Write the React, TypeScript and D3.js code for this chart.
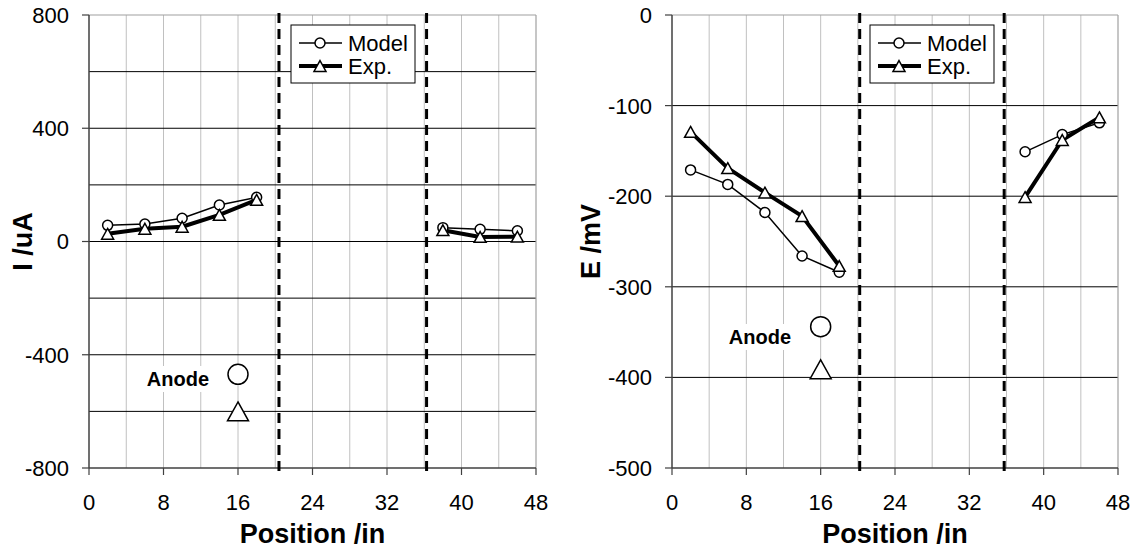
import React from "react";
import * as d3 from "d3";

const xsLeft = [2, 6, 10, 14, 18];
const xsRight = [38, 42, 46];

const currentModelLeft = [57, 62, 82, 129, 156];
const currentExpLeft = [27, 45, 52, 94, 147];
const currentModelRight = [49, 43, 38];
const currentExpRight = [40, 16, 17];
const currentAnode = { x: 16, model: -469, exp: -600 };

const potentialModelLeft = [-171, -187, -218, -266, -284];
const potentialExpLeft = [-129, -169, -196, -222, -277];
const potentialModelRight = [-151, -132, -119];
const potentialExpRight = [-201, -138, -113];
const potentialAnode = { x: 16, model: -344, exp: -391 };

const xTicks = [0, 8, 16, 24, 32, 40, 48];
const xGrid = [4, 8, 12, 16, 20, 24, 28, 32, 36, 40, 44];
const currentTicks = [-800, -400, 0, 400, 800];
const currentGrid = [-600, -400, -200, 0, 200, 400, 600];
const potentialTicks = [-500, -400, -300, -200, -100, 0];
const potentialGrid = [-400, -300, -200, -100];

const FONT = "'Liberation Sans', Arial, sans-serif";

type PanelProps = {
  left: number;
  right: number;
  top: number;
  bottom: number;
  yDomain: [number, number];
  yTicks: number[];
  yGrid: number[];
  yTitle: string;
  yTitleX: number;
  modelLeft: number[];
  expLeft: number[];
  modelRight: number[];
  expRight: number[];
  anode: { x: number; model: number; exp: number };
  dashes: number[];
  legendX: number;
  anodeTextRight: number;
  anodeTextY: number;
};

function triPath(cx: number, cy: number, w: number) {
  const h = w * 0.9;
  return `M${cx},${cy - h / 2}L${cx + w / 2},${cy + h / 2}L${cx - w / 2},${cy + h / 2}Z`;
}

function Panel(p: PanelProps) {
  const x = d3.scaleLinear().domain([0, 48]).range([p.left, p.right]);
  const y = d3.scaleLinear().domain(p.yDomain).range([p.bottom, p.top]);
  const line = d3
    .line<[number, number]>()
    .x((d) => x(d[0]))
    .y((d) => y(d[1]));
  const seg = (xs: number[], ys: number[]) =>
    xs.map((v, i) => [v, ys[i]] as [number, number]);

  const modelSegs = [seg(xsLeft, p.modelLeft), seg(xsRight, p.modelRight)];
  const expSegs = [seg(xsLeft, p.expLeft), seg(xsRight, p.expRight)];

  const lgY1 = 43;
  const lgY2 = 66;
  const lx = p.legendX;

  return (
    <g>
      {/* vertical grid */}
      {xGrid.map((g) => (
        <line key={"vg" + g} x1={x(g)} x2={x(g)} y1={p.top} y2={p.bottom} stroke="#c0c0c0" strokeWidth={1} />
      ))}
      {/* horizontal grid */}
      {p.yGrid.map((g) => (
        <line key={"hg" + g} x1={p.left} x2={p.right} y1={y(g)} y2={y(g)} stroke="#000" strokeWidth={1} />
      ))}
      {/* frame */}
      <line x1={p.left} x2={p.right} y1={p.top} y2={p.top} stroke="#a0a0a0" strokeWidth={1.2} />
      <line x1={p.right} x2={p.right} y1={p.top} y2={p.bottom} stroke="#a0a0a0" strokeWidth={1.2} />
      <line x1={p.left} x2={p.left} y1={p.top} y2={p.bottom} stroke="#404040" strokeWidth={1.5} />
      <line x1={p.left} x2={p.right} y1={p.bottom} y2={p.bottom} stroke="#404040" strokeWidth={1.5} />
      {/* y ticks */}
      {p.yTicks.map((t) => (
        <g key={"yt" + t}>
          <line x1={p.left - 7} x2={p.left} y1={y(t)} y2={y(t)} stroke="#404040" strokeWidth={1.2} />
          <text x={p.left - 20} y={y(t)} dy="0.36em" textAnchor="end" fontSize={22} fontFamily={FONT} fill="#000">
            {t}
          </text>
        </g>
      ))}
      {/* x ticks */}
      {xTicks.map((t) => (
        <g key={"xt" + t}>
          <line x1={x(t)} x2={x(t)} y1={p.bottom} y2={p.bottom + 7} stroke="#404040" strokeWidth={1.2} />
          <text x={x(t)} y={p.bottom + 34} dy="0.36em" textAnchor="middle" fontSize={22} fontFamily={FONT} fill="#000">
            {t}
          </text>
        </g>
      ))}
      {/* dashed separators */}
      {p.dashes.map((dv) => (
        <line key={"ds" + dv} x1={x(dv)} x2={x(dv)} y1={p.top - 2} y2={p.bottom + 4} stroke="#000" strokeWidth={3} strokeDasharray="10,6" />
      ))}
      {/* titles */}
      <text
        x={(p.left + p.right) / 2}
        y={533}
        dy="0.36em"
        textAnchor="middle"
        fontSize={27}
        fontWeight="bold"
        fontFamily={FONT}
      >
        Position /in
      </text>
      <text
        transform={`translate(${p.yTitleX},${(p.top + p.bottom) / 2}) rotate(-90)`}
        dy="0.36em"
        textAnchor="middle"
        fontSize={27}
        fontWeight="bold"
        fontFamily={FONT}
      >
        {p.yTitle}
      </text>
      {/* data lines */}
      {expSegs.map((s, i) => (
        <path key={"el" + i} d={line(s) || ""} fill="none" stroke="#000" strokeWidth={4} strokeLinejoin="round" />
      ))}
      {modelSegs.map((s, i) => (
        <path key={"ml" + i} d={line(s) || ""} fill="none" stroke="#000" strokeWidth={1.5} />
      ))}
      {modelSegs.flat().map((d, i) => (
        <circle key={"mc" + i} cx={x(d[0])} cy={y(d[1])} r={5} fill="#fff" stroke="#000" strokeWidth={1.5} />
      ))}
      {expSegs.flat().map((d, i) => (
        <path key={"et" + i} d={triPath(x(d[0]), y(d[1]), 12)} fill="#fff" stroke="#000" strokeWidth={1.5} />
      ))}
      {/* anode */}
      <rect x={p.anodeTextRight - 68} y={p.anodeTextY - 13} width={70} height={26} fill="#fff" />
      <text x={p.anodeTextRight} y={p.anodeTextY} dy="0.36em" textAnchor="end" fontSize={20} fontWeight="bold" fontFamily={FONT}>
        Anode
      </text>
      <circle cx={x(p.anode.x)} cy={y(p.anode.model)} r={10} fill="#fff" stroke="#000" strokeWidth={1.5} />
      <path d={triPath(x(p.anode.x), y(p.anode.exp), 21)} fill="#fff" stroke="#000" strokeWidth={1.5} />
      {/* legend */}
      <rect x={lx} y={25} width={124} height={58} fill="#fff" stroke="#000" strokeWidth={1} />
      <line x1={lx + 8} x2={lx + 51} y1={lgY1} y2={lgY1} stroke="#000" strokeWidth={1.5} />
      <circle cx={lx + 29} cy={lgY1} r={5} fill="#fff" stroke="#000" strokeWidth={1.5} />
      <text x={lx + 57} y={lgY1} dy="0.36em" fontSize={22} fontFamily={FONT}>
        Model
      </text>
      <line x1={lx + 8} x2={lx + 51} y1={lgY2} y2={lgY2} stroke="#000" strokeWidth={4} />
      <path d={triPath(lx + 29, lgY2, 12)} fill="#fff" stroke="#000" strokeWidth={1.5} />
      <text x={lx + 57} y={lgY2} dy="0.36em" fontSize={22} fontFamily={FONT}>
        Exp.
      </text>
    </g>
  );
}

export default function App() {
  return (
    <svg
      width={1137}
      height={550}
      style={{ position: "absolute", left: 0, top: 0, background: "#fff" }}
    >
      <rect x={0} y={0} width={1137} height={550} fill="#fff" />
      <Panel
        left={89}
        right={536}
        top={15}
        bottom={468}
        yDomain={[-800, 800]}
        yTicks={currentTicks}
        yGrid={currentGrid}
        yTitle="I /uA"
        yTitleX={22}
        modelLeft={currentModelLeft}
        expLeft={currentExpLeft}
        modelRight={currentModelRight}
        expRight={currentExpRight}
        anode={currentAnode}
        dashes={[20.4, 36.25]}
        legendX={291}
        anodeTextRight={209}
        anodeTextY={379}
      />
      <Panel
        left={672}
        right={1118}
        top={15}
        bottom={468}
        yDomain={[-500, 0]}
        yTicks={potentialTicks}
        yGrid={potentialGrid}
        yTitle="E /mV"
        yTitleX={590}
        modelLeft={potentialModelLeft}
        expLeft={potentialExpLeft}
        modelRight={potentialModelRight}
        expRight={potentialExpRight}
        anode={potentialAnode}
        dashes={[20.2, 35.75]}
        legendX={870}
        anodeTextRight={791}
        anodeTextY={337}
      />
    </svg>
  );
}
